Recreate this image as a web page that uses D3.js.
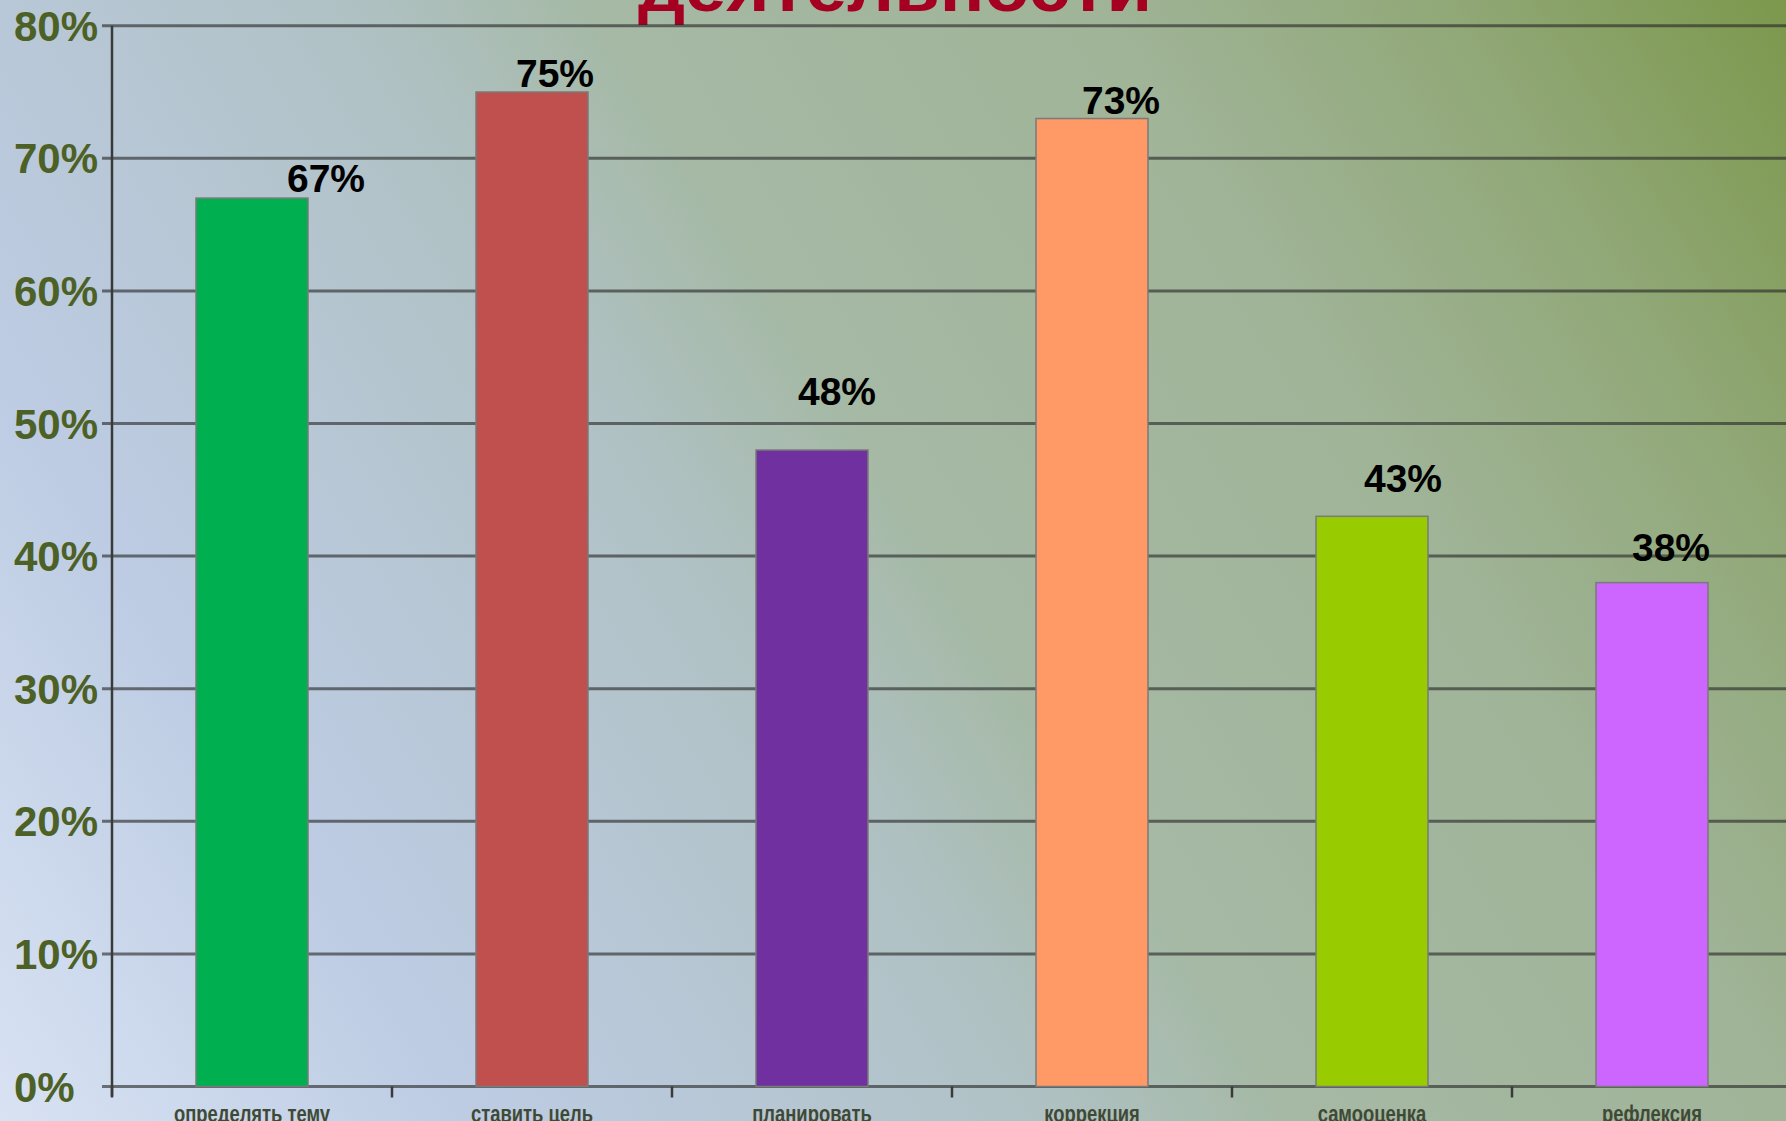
<!DOCTYPE html>
<html>
<head>
<meta charset="utf-8">
<script src="https://cdn.jsdelivr.net/npm/d3@7"></script>
<style>
  html, body { margin: 0; padding: 0; overflow: hidden; }
  svg { display: block; }
</style>
</head>
<body>
<main></main>
<script>
// chart data
const categories = ["определять тему", "ставить цель", "планировать", "коррекция", "самооценка", "рефлексия"]
const values = [0.67, 0.75, 0.48, 0.73, 0.43, 0.38]
const barColors = ["#00b050", "#c0504d", "#7030a0", "#ff9966", "#99cc00", "#cc66ff"]
const yTicks = [0, 0.1, 0.2, 0.3, 0.4, 0.5, 0.6, 0.7, 0.8]
const titleText = "деятельности"

// label nudges (px) relative to bar centre / bar top, as placed in the original
const labelDx = [74, 23, 25, 29, 31, 19]
const labelGap = [6, 5, 45, 4.5, 24, 22]

const w = 1786
const h = 1121
const margin = { top: 25.7, left: 112, right: -6, bottom: 34.5 }

const svg = d3
  .select("main")
  .append("svg")
  .attr("width", w)
  .attr("height", h)

// background gradient, light blue bottom-left to olive top-right
const defs = svg.append("defs")
const grad = defs
  .append("linearGradient")
  .attr("id", "bg")
  .attr("gradientUnits", "userSpaceOnUse")
  .attr("x1", 0)
  .attr("y1", h)
  .attr("x2", w)
  .attr("y2", 0)
const stops = [
  [0, "#d8e2f3"],
  [0.19, "#bdcce3"],
  [0.28, "#b8c8d8"],
  [0.42, "#b0c1c4"],
  [0.52, "#a5b9a5"],
  [0.72, "#a0b498"],
  [0.86, "#91a878"],
  [1, "#7c984c"],
]
grad
  .selectAll("stop")
  .data(stops)
  .enter()
  .append("stop")
  .attr("offset", (d) => d[0])
  .attr("stop-color", (d) => d[1])

svg.append("rect").attr("width", w).attr("height", h).attr("fill", "url(#bg)")

// scales
const x = d3
  .scaleBand()
  .domain(categories)
  .range([margin.left, w - margin.right])
  .paddingInner(0.6)
  .paddingOuter(0.3)

const y = d3
  .scaleLinear()
  .domain([0, 0.8])
  .range([h - margin.bottom, margin.top])

// title (only its last line is inside the picture)
svg
  .append("text")
  .attr("x", 895)
  .attr("y", 10.7)
  .attr("text-anchor", "middle")
  .attr("font-family", "Liberation Sans, Arial, sans-serif")
  .attr("font-weight", "bold")
  .attr("font-size", 70)
  .attr("textLength", 514)
  .attr("lengthAdjust", "spacingAndGlyphs")
  .attr("fill", "#a50021")
  .text(titleText)

// gridlines
svg
  .append("g")
  .selectAll("line")
  .data(yTicks)
  .enter()
  .append("line")
  .attr("x1", margin.left - 10)
  .attr("x2", w)
  .attr("y1", (d) => y(d))
  .attr("y2", (d) => y(d))
  .attr("stroke", "rgba(40,40,40,0.62)")
  .attr("stroke-width", 3)

// y tick labels, left aligned like the original
svg
  .append("g")
  .selectAll("text")
  .data(yTicks)
  .enter()
  .append("text")
  .attr("x", 14)
  .attr("y", (d) => y(d))
  .attr("dy", "0.36em")
  .attr("font-family", "Liberation Sans, Arial, sans-serif")
  .attr("font-weight", "bold")
  .attr("font-size", 42)
  .attr("fill", "#4d6126")
  .text(d3.format(".0%"))

// y axis line
svg
  .append("line")
  .attr("x1", margin.left)
  .attr("x2", margin.left)
  .attr("y1", y(0.8))
  .attr("y2", y(0) + 10)
  .attr("stroke", "#3a3a3a")
  .attr("stroke-width", 2.5)

// x ticks between categories
const tickPos = d3.range(categories.length + 1).map((i) => margin.left + i * x.step())
svg
  .append("g")
  .selectAll("line")
  .data(tickPos)
  .enter()
  .append("line")
  .attr("x1", (d) => d)
  .attr("x2", (d) => d)
  .attr("y1", y(0))
  .attr("y2", y(0) + 11)
  .attr("stroke", "#3a3a3a")
  .attr("stroke-width", 2.5)

// bars
svg
  .append("g")
  .selectAll("rect")
  .data(values)
  .enter()
  .append("rect")
  .attr("x", (d, i) => x(categories[i]))
  .attr("y", (d) => y(d))
  .attr("width", x.bandwidth())
  .attr("height", (d) => y(0) - y(d))
  .attr("fill", (d, i) => barColors[i])
  .attr("stroke", "#7a7a7a")
  .attr("stroke-width", 1.5)

// value labels
svg
  .append("g")
  .selectAll("text")
  .data(values)
  .enter()
  .append("text")
  .attr("x", (d, i) => x(categories[i]) + x.bandwidth() / 2 + labelDx[i])
  .attr("y", (d, i) => y(d) - labelGap[i])
  .attr("text-anchor", "middle")
  .attr("font-family", "Liberation Sans, Arial, sans-serif")
  .attr("font-weight", "bold")
  .attr("font-size", 39)
  .attr("fill", "#000")
  .text((d) => d3.format(".0%")(d))

// category labels (cut by the bottom edge in the original), squeezed like a narrow font
svg
  .append("g")
  .selectAll("text")
  .data(categories)
  .enter()
  .append("text")
  .attr("x", (d) => x(d) + x.bandwidth() / 2)
  .attr("y", h + 1)
  .attr("text-anchor", "middle")
  .attr("font-family", "Liberation Sans, Arial, sans-serif")
  .attr("font-weight", "bold")
  .attr("font-size", 23)
  .attr("fill", "#3f4a36")
  .text((d) => d)
  .each(function () {
    const len = this.getComputedTextLength()
    d3.select(this)
      .attr("textLength", len * 0.8)
      .attr("lengthAdjust", "spacingAndGlyphs")
  })
</script>
</body>
</html>
